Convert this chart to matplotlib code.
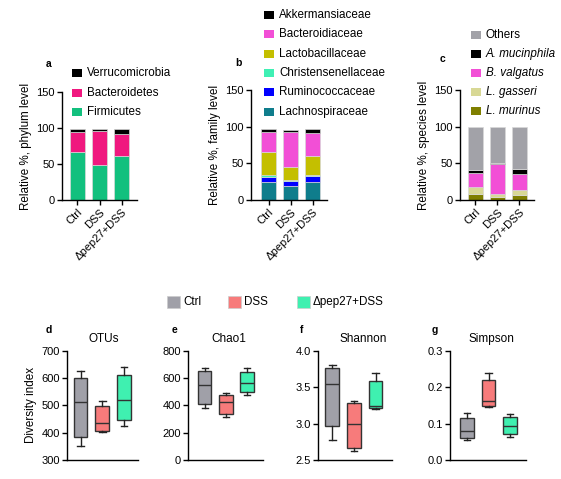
import numpy as np
import matplotlib
matplotlib.use('Agg')
import matplotlib.pyplot as plt
from matplotlib.patches import Rectangle

plt.rcParams['font.family'] = ['Liberation Sans', 'DejaVu Sans']
plt.rcParams['font.size'] = 8

W, H = 561, 479

# ---- data ----
groups = ['Ctrl', 'DSS', '\u0394pep27+DSS']

# phylum level (stacked segments, bottom to top)
phylum_names = ['Firmicutes', 'Bacteroidetes', 'Verrucomicrobia']
firmicutes = [67, 48, 61]
bacteroidetes = [28, 48, 31]
verrucomicrobia = [3, 2, 6.5]

# family level
family_names = ['Lachnospiraceae', 'Ruminococcaceae', 'Christensenellaceae',
                'Lactobacillaceae', 'Bacteroidiaceae', 'Akkermansiaceae']
lachno = [24, 19, 25]
rumino = [7, 7, 7.5]
christ = [2.5, 1, 2]
lacto = [32.5, 18, 25]
bacteroid = [26.7, 47.7, 31.2]
akker = [4, 2.7, 6.4]

# species level
species_names = ['L. murinus', 'L. gasseri', 'B. valgatus', 'A. mucinphila', 'Others']
l_murinus = [7.8, 4, 7]
l_gasseri = [9.6, 4.7, 6.3]
b_valgatus = [19.6, 39.9, 22.5]
a_mucin = [4.3, 2.4, 6.4]
others = [58.7, 49, 57.8]

# alpha diversity: whislo, q1, med, q3, whishi per group
otus = [[351, 385, 513, 601, 624], [401, 406, 437, 496, 516], [424, 445, 521, 610, 641]]
chao1 = [[380, 412, 551, 654, 676], [312, 339, 422, 478, 488], [473, 495, 561, 644, 673]]
shannon = [[2.78, 2.97, 3.54, 3.76, 3.81], [2.62, 2.67, 3.00, 3.28, 3.31], [3.20, 3.21, 3.24, 3.58, 3.69]]
simpson = [[0.055, 0.061, 0.080, 0.115, 0.129], [0.145, 0.149, 0.163, 0.220, 0.238], [0.062, 0.070, 0.093, 0.117, 0.127]]

# ---- colours ----
phylum_colors = ['#12c07e', '#f0187f', '#000000']
family_colors = ['#0f7d8c', '#0000ff', '#3ff0b4', '#c4bf00', '#f24fd6', '#000000']
species_colors = ['#7f7f00', '#d8d895', '#f24fd6', '#000000', '#a2a2a8']
box_colors = ['#a0a0a8', '#f77b7b', '#3ff0b0']

FS = 8.4


def px_axes(fig, left, right, top, bottom):
    return fig.add_axes([left / W, (H - bottom) / H, (right - left) / W, (bottom - top) / H])


def style(ax):
    for s in ['top', 'right']:
        ax.spines[s].set_visible(False)
    for s in ['left', 'bottom']:
        ax.spines[s].set_linewidth(1.0)
    ax.tick_params(length=3.5, width=1.0, labelsize=8, pad=1.5)


def fig_legend(fig, x, y0, dy, names, colors, italic=None, pw=10, ph=8):
    # entries drawn top to bottom, y in pixels
    for i, (n, c) in enumerate(zip(names, colors)):
        y = y0 + i * dy
        fig.patches.append(Rectangle((x / W, (H - y - ph / 2) / H), pw / W, ph / H,
                                     transform=fig.transFigure, facecolor=c,
                                     edgecolor='none'))
        st = 'italic' if (italic and italic[i]) else 'normal'
        fig.text((x + pw + 5) / W, (H - y) / H, n, va='center', ha='left',
                 fontsize=FS, style=st)


def stacked(ax, series, colors, xlim):
    x = np.arange(len(groups))
    bottom = np.zeros(len(groups))
    for vals, c in zip(series, colors):
        ax.bar(x, vals, 0.68, bottom=bottom, color=c, edgecolor='#d8d8d8', linewidth=0.5)
        bottom += np.array(vals)
    ax.set_xlim(*xlim)
    ax.set_ylim(0, 150)
    ax.set_yticks([0, 50, 100, 150])
    ax.set_xticks(x)
    ax.set_xticklabels(groups, rotation=45, ha='right', rotation_mode='anchor')
    style(ax)


fig = plt.figure(figsize=(W / 100, H / 100), dpi=100)

# a
ax = px_axes(fig, 62, 137, 92, 200)
stacked(ax, [firmicutes, bacteroidetes, verrucomicrobia], phylum_colors, (-0.7, 2.7))
ax.set_ylabel('Relative %, phylum level', fontsize=FS, labelpad=3)
fig.text(46 / W, (H - 64) / H, 'a', fontsize=7.5, fontweight='bold', va='center')
fig_legend(fig, 72, 73, 19.5, phylum_names[::-1], phylum_colors[::-1])

# b
ax = px_axes(fig, 251, 327, 90, 200)
stacked(ax, [lachno, rumino, christ, lacto, bacteroid, akker], family_colors, (-0.8, 2.66))
ax.set_ylabel('Relative %, family level', fontsize=FS, labelpad=3)
fig.text(235 / W, (H - 63) / H, 'b', fontsize=7.5, fontweight='bold', va='center')
fig_legend(fig, 264, 15, 19.3, family_names[::-1], family_colors[::-1])

# c
ax = px_axes(fig, 460, 534, 90, 200)
stacked(ax, [l_murinus, l_gasseri, b_valgatus, a_mucin, others], species_colors, (-0.7, 2.67))
ax.set_ylabel('Relative %, species level', fontsize=FS, labelpad=3)
fig.text(440 / W, (H - 59) / H, 'c', fontsize=7.5, fontweight='bold', va='center')
fig_legend(fig, 471, 35, 19, species_names[::-1], species_colors[::-1],
           italic=[False, True, True, True, True])

# d-g box plots
box_panels = [
    ('d', 'OTUs', otus, (67, 138), (-0.62, 2.64), (300, 700), [300, 400, 500, 600, 700], '%d', 103.5),
    ('e', 'Chao1', chao1, (188, 263), (-0.79, 2.76), (0, 800), [0, 200, 400, 600, 800], '%d', 229),
    ('f', 'Shannon', shannon, (318, 392), (-0.66, 2.76), (2.5, 4.0), [2.5, 3.0, 3.5, 4.0], '%.1f', 363),
    ('g', 'Simpson', simpson, (450, 526), (-0.79, 2.74), (0, 0.3), [0.0, 0.1, 0.2, 0.3], '%.1f', 491.5),
]
for letter, title, data, (l, r), xlim, ylim, yt, fmt, tx in box_panels:
    ax = px_axes(fig, l, r, 350.7, 460)
    stats = [dict(whislo=s[0], q1=s[1], med=s[2], q3=s[3], whishi=s[4], label=g)
             for s, g in zip(data, groups)]
    bp = ax.bxp(stats, positions=range(3), widths=0.64, capwidths=0.3,
                showfliers=False, patch_artist=True,
                boxprops=dict(edgecolor='#333333', linewidth=1.0),
                medianprops=dict(color='#333333', linewidth=1.0),
                whiskerprops=dict(color='#222222', linewidth=1.0),
                capprops=dict(color='#222222', linewidth=1.0))
    for patch, c in zip(bp['boxes'], box_colors):
        patch.set_facecolor(c)
    ax.set_xlim(*xlim)
    ax.set_ylim(*ylim)
    ax.set_yticks(yt)
    ax.set_yticklabels([fmt % v for v in yt])
    ax.set_xticks([])
    style(ax)
    fig.text(tx / W, (H - 339) / H, title, fontsize=8.5, ha='center', va='center')
    if letter == 'd':
        ax.set_ylabel('Diversity index', fontsize=FS, labelpad=3)
    lx = {'d': 46, 'e': 172, 'f': 300, 'g': 432}[letter]
    fig.text(lx / W, (H - 330) / H, letter, fontsize=7.5, fontweight='bold', va='center')

# box legend
for (x, name, c) in zip([167, 228, 297], groups, box_colors):
    fig.patches.append(Rectangle((x / W, (H - 302 - 6) / H), 13 / W, 12 / H,
                                 transform=fig.transFigure, facecolor=c,
                                 edgecolor='#cccccc', linewidth=0.5))
    fig.text((x + 16) / W, (H - 302) / H, name, va='center', ha='left', fontsize=FS)

fig.savefig('out.png', dpi=100)
